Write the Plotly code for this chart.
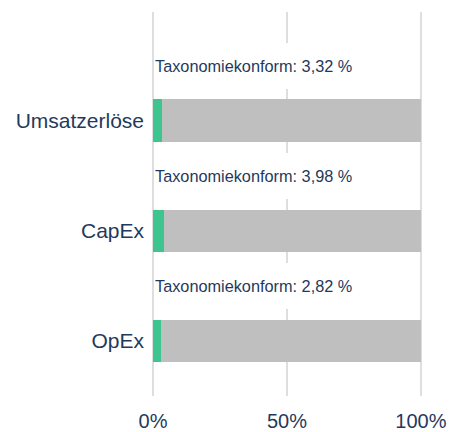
import plotly.graph_objects as go

categories = ["Umsatzerlöse", "CapEx", "OpEx"]
konform = [3.32, 3.98, 2.82]
rest = [96.68, 96.02, 97.18]
label_texts = ["3,32", "3,98", "2,82"]
x_ticks = [0, 50, 100]
x_ticklabels = ["0%", "50%", "100%"]

navy = "#1f3a5c"
fig = go.Figure()
fig.add_trace(go.Bar(y=categories, x=konform, orientation="h",
                     marker=dict(color="#3dc48f", line=dict(width=0)),
                     hoverinfo="skip"))
fig.add_trace(go.Bar(y=categories, x=rest, orientation="h",
                     marker=dict(color="#bfbfbf", line=dict(width=0)),
                     hoverinfo="skip"))

for i, t in enumerate(label_texts):
    fig.add_annotation(x=0, y=i - 0.5, xref="x", yref="y",
                       text=f"Taxonomiekonform: {t} %", showarrow=False,
                       xanchor="left", yanchor="middle", align="left",
                       bgcolor="white", borderpad=1, borderwidth=0,
                       height=44, width=206, xshift=1,
                       font=dict(family="Liberation Sans, Arial", size=16.3, color=navy))

fig.update_layout(
    barmode="stack", bargap=0.61, showlegend=False,
    width=455, height=432,
    margin=dict(l=152, r=33, t=12, b=36, autoexpand=False),
    paper_bgcolor="white", plot_bgcolor="white",
    font=dict(family="Liberation Sans, Arial", color=navy),
    xaxis=dict(range=[-0.4, 100.4], tickvals=x_ticks, ticktext=x_ticklabels,
               showgrid=True, gridcolor="#dedede", gridwidth=2,
               zeroline=False, showline=False, ticks="", automargin=False,
               ticklabelstandoff=11,
               tickfont=dict(size=20, color=navy), fixedrange=True),
    yaxis=dict(type="category", categoryorder="array", categoryarray=categories,
               range=[2.5, -0.99], showgrid=False, zeroline=False, showline=False,
               ticks="", ticklabelstandoff=7, automargin=False,
               tickfont=dict(size=21, color=navy), fixedrange=True),
)
# remove the page's default body margin so the 455x432 figure fills the window
fig.write_html("out.html", config={"displayModeBar": False},
               post_script="document.body.style.margin='0';document.body.style.overflow='hidden';")
